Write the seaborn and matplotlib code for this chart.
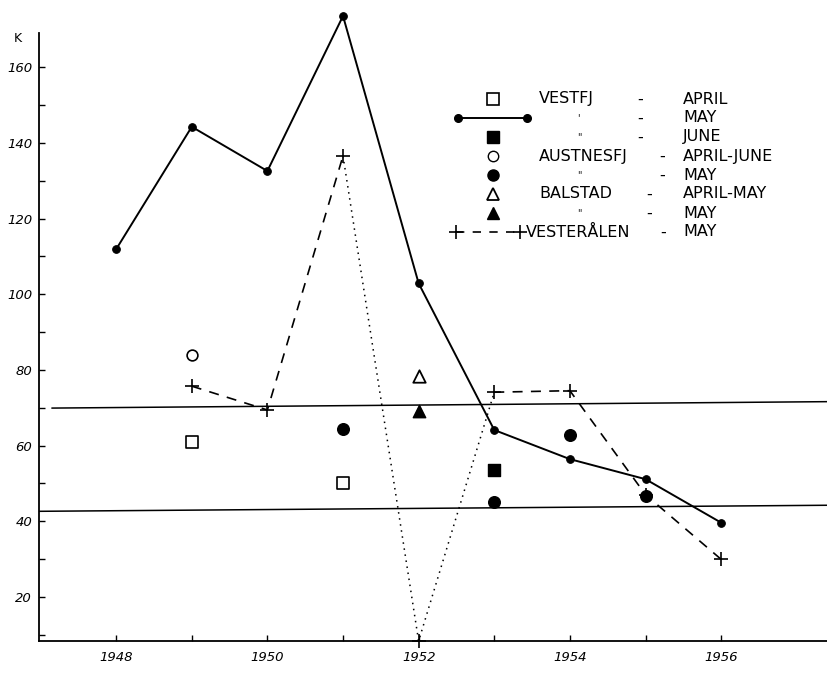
import numpy as np
import pandas as pd
import matplotlib
matplotlib.use("Agg")
import matplotlib.pyplot as plt
import seaborn as sns
from matplotlib.lines import Line2D

# ---------------- data ----------------
vestfj_may_years = [1948, 1949, 1950, 1951, 1952, 1953, 1954, 1955, 1956]
vestfj_may = [111.9, 144.3, 132.6, 173.6, 102.9, 64.1, 56.4, 51.1, 39.6]

vestfj_april_years = [1949, 1951]
vestfj_april = [60.8, 50.0]

vestfj_june_years = [1953]
vestfj_june = [53.5]

austnesfj_aprjun_years = [1949]
austnesfj_aprjun = [83.9]

austnesfj_may_years = [1951, 1953, 1954, 1955]
austnesfj_may = [64.5, 45.1, 62.8, 46.6]

balstad_aprmay_years = [1952]
balstad_aprmay = [78.5]

balstad_may_years = [1952]
balstad_may = [69.1]

vesteralen_years = [1949, 1950, 1951, 1952, 1953, 1954, 1955, 1956]
vesteralen = [75.7, 69.4, 136.6, 8.3, 74.1, 74.5, 47.0, 29.9]

ref_upper = [69.9, 71.6]   # level at left / right end (slightly tilted in scan)
ref_lower = [42.6, 44.2]

year_ticks = [1948, 1950, 1952, 1954, 1956]
year_minor = [1949, 1951, 1953, 1955]
k_ticks = [20, 40, 60, 80, 100, 120, 140, 160]
k_minor = [10, 30, 50, 70, 90, 110, 130, 150]

legend_rows = [
    ("VESTFJ", "-", "APRIL"),
    ("'", "-", "MAY"),
    ('"', "-", "JUNE"),
    ("AUSTNESFJ", "-", "APRIL-JUNE"),
    ('"', "-", "MAY"),
    ("BALSTAD", "-", "APRIL-MAY"),
    ('"', "-", "MAY"),
    ("VESTERÅLEN", "-", "MAY"),
]

# ---------------- figure ----------------
sns.set_theme(style="white")
plt.rcParams["font.family"] = ["DejaVu Sans"]
plt.rcParams["text.color"] = "black"
plt.rcParams["xtick.color"] = "black"
plt.rcParams["ytick.color"] = "black"
plt.rcParams["axes.labelcolor"] = "black"

W, H = 827, 692
fig = plt.figure(figsize=(W / 100, H / 100), dpi=100)
ax = fig.add_axes([39 / W, 51 / H, 788 / W, 608 / H])
ax.set_xlim(1946.98, 1957.40)
ax.set_ylim(8.3, 169.1)

xl = ax.get_xlim()

# reference horizontal lines
sns.lineplot(x=[1947.15, xl[1]], y=ref_upper, ax=ax, color="black", lw=1.1,
             estimator=None, legend=False)
sns.lineplot(x=[xl[0], xl[1]], y=ref_lower, ax=ax, color="black", lw=1.1,
             estimator=None, legend=False)

# Vestfj May solid line with dots
sns.lineplot(x=vestfj_may_years, y=vestfj_may, ax=ax, color="black", lw=1.4,
             marker="o", markersize=5.5, markeredgecolor="black",
             estimator=None, legend=False, clip_on=False)

# Vesteralen: dashed parts + dotted parts
vx = np.array(vesteralen_years)
vy = np.array(vesteralen)
sns.lineplot(x=vx[0:3], y=vy[0:3], ax=ax, color="black", lw=1.2,
             linestyle=(0, (6, 5)), estimator=None, legend=False)
sns.lineplot(x=vx[4:8], y=vy[4:8], ax=ax, color="black", lw=1.2,
             linestyle=(0, (6, 5)), estimator=None, legend=False)
sns.lineplot(x=vx[2:5], y=vy[2:5], ax=ax, color="black", lw=1.1,
             linestyle=(0, (1, 3)), estimator=None, legend=False, clip_on=False)
sns.scatterplot(x=vx, y=vy, ax=ax, marker="+", s=110, color="black",
                linewidth=1.2, legend=False, clip_on=False, zorder=5)

# point series
sns.scatterplot(x=vestfj_april_years, y=vestfj_april, ax=ax, marker="s", s=70,
                color="white", edgecolor="black", linewidth=1.2, legend=False, zorder=5)
sns.scatterplot(x=vestfj_june_years, y=vestfj_june, ax=ax, marker="s", s=70,
                color="black", edgecolor="black", linewidth=1.0, legend=False, zorder=5)
sns.scatterplot(x=austnesfj_aprjun_years, y=austnesfj_aprjun, ax=ax, marker="o", s=60,
                color="white", edgecolor="black", linewidth=1.2, legend=False, zorder=5)
sns.scatterplot(x=austnesfj_may_years, y=austnesfj_may, ax=ax, marker="o", s=70,
                color="black", edgecolor="black", linewidth=1.0, legend=False, zorder=5)
sns.scatterplot(x=balstad_aprmay_years, y=balstad_aprmay, ax=ax, marker="^", s=80,
                color="white", edgecolor="black", linewidth=1.3, legend=False, zorder=5)
sns.scatterplot(x=balstad_may_years, y=balstad_may, ax=ax, marker="^", s=80,
                color="black", edgecolor="black", linewidth=1.0, legend=False, zorder=5)

# axes styling
for s in ["top", "right"]:
    ax.spines[s].set_visible(False)
for s in ["left", "bottom"]:
    ax.spines[s].set_color("black")
    ax.spines[s].set_linewidth(1.3)

ax.set_xticks(year_ticks)
ax.set_xticks(year_minor, minor=True)
ax.set_xticklabels([str(y) for y in year_ticks], fontsize=9.5, style="italic")
ax.set_yticks(k_ticks)
ax.set_yticks(k_minor, minor=True)
ax.set_yticklabels([str(k) for k in k_ticks], fontsize=9.5, style="italic")
ax.tick_params(which="both", direction="in", length=4, width=1, color="black",
               labelcolor="black", left=True, bottom=True)
ax.tick_params(axis="x", pad=7)
ax.tick_params(axis="y", pad=5)
ax.set_xlabel("")
ax.set_ylabel("")

# "K" unit label
fig.text(18 / W, 1 - 38 / H, "K", fontsize=9, ha="center", va="center", color="black")

# ---------------- legend (drawn in figure pixel coords) ----------------
def fx(x):
    return x / W

def fy(y):
    return 1 - y / H

row_y = [99 + 19 * i for i in range(len(legend_rows))]
mk_x = 493
handle_styles = [
    dict(marker="s", ms=8, mfc="white", mec="black", mew=1.2),
    None,
    dict(marker="s", ms=8, mfc="black", mec="black", mew=1.0),
    dict(marker="o", ms=7.5, mfc="white", mec="black", mew=1.0),
    dict(marker="o", ms=8, mfc="black", mec="black", mew=1.0),
    dict(marker="^", ms=8, mfc="white", mec="black", mew=1.3),
    dict(marker="^", ms=8, mfc="black", mec="black", mew=1.0),
    None,
]
for i, st in enumerate(handle_styles):
    if st is not None:
        fig.add_artist(Line2D([fx(mk_x)], [fy(row_y[i])], transform=fig.transFigure,
                              linestyle="none", **st))
# solid line key
fig.add_artist(Line2D([fx(458), fx(527)], [fy(row_y[1]), fy(row_y[1])],
                      transform=fig.transFigure, color="black", lw=1.4,
                      marker="o", ms=5.5))
# dashed + key
fig.add_artist(Line2D([fx(456), fx(520)], [fy(row_y[7]), fy(row_y[7])],
                      transform=fig.transFigure, color="black", lw=1.2,
                      linestyle=(0, (5, 5)), marker="+", ms=10, mew=1.2))

name_x = [539, 577, 577, 539, 577, 539, 577, 526]
dash_x = [640, 640, 640, 662, 662, 649, 649, 663]
for i, (name, dash, period) in enumerate(legend_rows):
    small = name in ("'", '"')
    fig.text(fx(name_x[i]), fy(row_y[i]), name, fontsize=7 if small else 11.5,
             ha="left", va="center", color="black")
    fig.text(fx(dash_x[i]), fy(row_y[i]), dash, fontsize=11.5, ha="center",
             va="center", color="black")
    fig.text(fx(683), fy(row_y[i]), period, fontsize=11.5, ha="left", va="center",
             color="black")

fig.savefig("out.png", dpi=100)
